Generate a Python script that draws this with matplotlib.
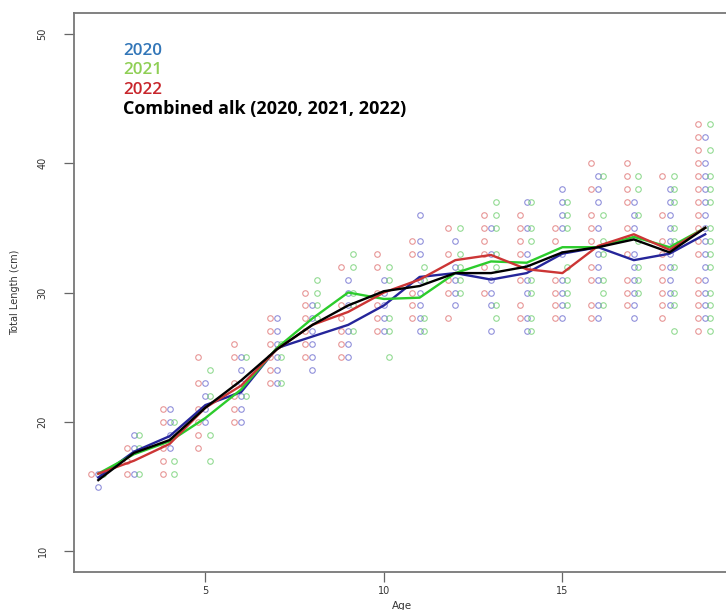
import numpy as np
import matplotlib
matplotlib.use('Agg')
import matplotlib.pyplot as plt

# ages sampled
ages = list(range(2, 20))

# observed total lengths (cm) per age, one list per survey year
len_2020 = [
    [15, 16], [16, 18, 19], [18, 19, 20, 21], [20, 21, 22, 23],
    [20, 21, 22, 23, 24, 25], [23, 24, 25, 26, 27, 28], [24, 25, 26, 27, 28, 29],
    [25, 26, 27, 29, 30, 31], [27, 28, 29, 30, 31], [27, 28, 29, 30, 31, 33, 34, 36],
    [29, 30, 31, 32, 34], [27, 29, 30, 31, 33, 35], [27, 28, 30, 31, 32, 33, 35, 37],
    [28, 29, 30, 31, 33, 35, 36, 37, 38], [28, 29, 31, 32, 33, 35, 37, 38, 39],
    [28, 29, 30, 31, 32, 33, 35, 36, 37], [29, 30, 31, 32, 33, 34, 35, 36, 37, 38],
    [28, 29, 30, 31, 32, 33, 34, 35, 36, 37, 38, 39, 40, 42],
]
len_2021 = [
    [16], [16, 18, 19], [16, 17, 20], [17, 19, 22, 24],
    [22, 25], [23, 25, 26], [28, 29, 30, 31],
    [27, 29, 30, 32, 33], [25, 27, 28, 31, 32], [27, 28, 31, 32],
    [30, 31, 32, 33, 35], [28, 29, 32, 33, 35, 36, 37], [27, 28, 30, 31, 34, 35, 37],
    [29, 30, 31, 32, 35, 36, 37], [29, 30, 31, 33, 34, 36, 39],
    [30, 31, 32, 34, 36, 38, 39], [27, 29, 30, 32, 34, 35, 37, 38, 39],
    [27, 28, 29, 30, 32, 33, 34, 35, 37, 38, 39, 41, 43],
]
len_2022 = [
    [16], [16, 17, 18], [16, 17, 18, 20, 21], [18, 19, 20, 21, 23, 25],
    [20, 21, 22, 23, 25, 26], [23, 24, 25, 26, 27, 28], [25, 26, 27, 28, 29, 30],
    [25, 26, 27, 28, 29, 32], [27, 28, 29, 30, 32, 33], [28, 29, 30, 33, 34],
    [28, 30, 31, 33, 35], [30, 32, 33, 34, 35, 36], [28, 29, 31, 33, 34, 35, 36],
    [28, 29, 30, 31, 34, 35], [28, 29, 31, 32, 34, 35, 36, 38, 40],
    [29, 30, 31, 33, 35, 37, 38, 39, 40], [28, 29, 30, 31, 32, 33, 34, 36, 39],
    [27, 28, 29, 30, 31, 33, 34, 35, 36, 37, 38, 39, 40, 41, 42, 43],
]

# mean length at age from each age-length key
mean_2020 = [15.7, 17.7, 18.9, 21.3, 22.3, 25.7, 26.6, 27.5, 29.0, 31.2,
             31.5, 31.0, 31.5, 33.0, 33.5, 32.5, 33.0, 34.5]
mean_2021 = [16.0, 17.5, 18.5, 20.3, 22.5, 25.7, 28.0, 30.0, 29.5, 29.6,
             31.5, 32.4, 32.3, 33.5, 33.5, 34.3, 33.5, 35.0]
mean_2022 = [16.0, 17.0, 18.3, 21.1, 22.8, 25.6, 27.5, 28.5, 30.0, 31.0,
             32.5, 32.9, 31.8, 31.5, 33.6, 34.5, 33.3, 35.0]
mean_comb = [15.5, 17.6, 18.6, 21.1, 23.2, 25.6, 27.5, 29.0, 30.1, 30.5,
             31.5, 31.5, 32.0, 33.1, 33.5, 34.1, 33.1, 35.0]

legend_labels = ['2020', '2021', '2022', 'Combined alk (2020, 2021, 2022)']

fig = plt.figure(figsize=(7.26, 6.10), dpi=100)
ax = fig.add_axes([74 / 726, 1 - 572 / 610, 655.5 / 726, 559 / 610])

# raw points, nudged sideways per year so they don't sit on top of each other
pts = [(len_2020, 0.0, '#6262cc'), (len_2021, 0.13, '#66cc66'), (len_2022, -0.2, '#dd6a6a')]
for data, dx, col in pts:
    xs, ys = [], []
    for a, vals in zip(ages, data):
        xs += [a + dx] * len(vals)
        ys += vals
    ax.plot(xs, ys, 'o', ms=4.0, mfc='none', mec=col, mew=0.8, alpha=0.7)

ax.plot(ages, mean_2020, color='#25259a', lw=1.7)
ax.plot(ages, mean_2021, color='#2ccc2c', lw=1.7)
ax.plot(ages, mean_2022, color='#cc3535', lw=1.7)
ax.plot(ages, mean_comb, color='black', lw=1.7)

ax.set_xlim(1.32, 19.68)
ax.set_ylim(8.4, 51.6)
ax.set_xticks([5, 10, 15])
ax.set_yticks([10, 20, 30, 40, 50])
ax.tick_params(direction='out', length=7, width=0.9, colors='#666666',
               labelcolor='#333333', labelsize=7)
ax.tick_params(axis='y', pad=12)
ax.tick_params(axis='x', pad=3)
for lab in ax.get_yticklabels():
    lab.set_rotation(90)
    lab.set_va('center')
for s in ax.spines.values():
    s.set_color('#777777')
    s.set_linewidth(1.3)

ax.set_xlabel('Age', fontsize=7.5, color='#333333', labelpad=4)
ax.set_ylabel('Total Length (cm)', fontsize=7, color='#333333', labelpad=13)

# coloured text key in the top-left corner
key_cols = ['#3276b8', '#8fcf55', '#c8262c', 'black']
key_y = [51, 70, 90, 109]
for lab, col, yy in zip(legend_labels, key_cols, key_y):
    fig.text(123 / 726, 1 - yy / 610, lab, color=col,
             fontsize=13 if col == 'black' else 12.3,
             fontweight='bold' if col == 'black' else 'semibold',
             family='Open Sans', va='center', ha='left')

fig.savefig('out.png', dpi=100)
